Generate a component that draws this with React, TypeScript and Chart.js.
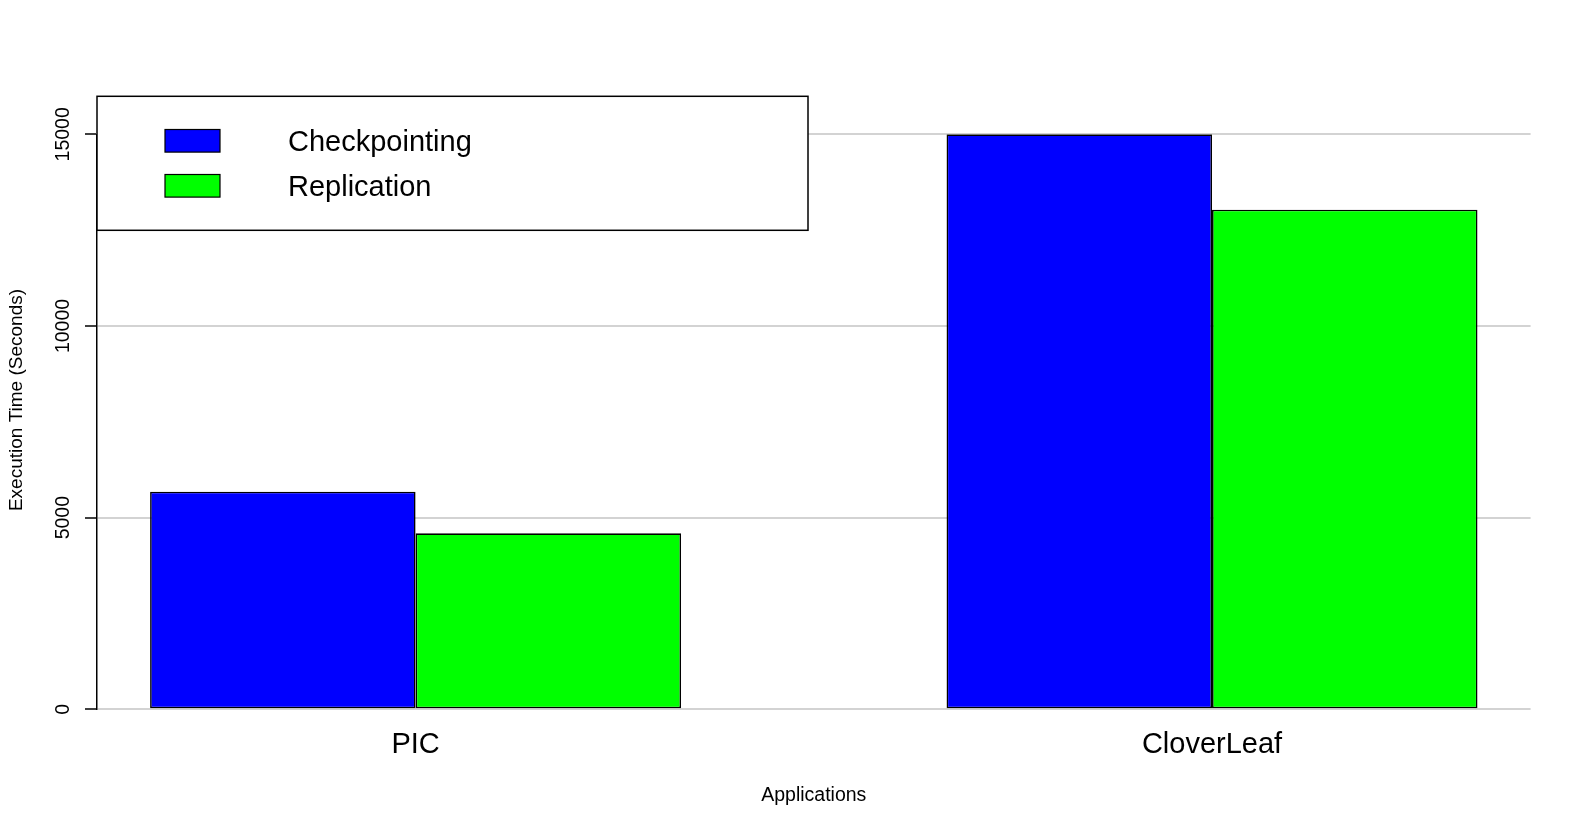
import React, { useEffect, useRef } from 'react';
import { Chart, registerables } from 'chart.js';

Chart.register(...registerables);

// ---- data ----
const categories = ['PIC', 'CloverLeaf'];
const seriesNames = ['Checkpointing', 'Replication'];
const checkpointing = [5675, 15000];
const replication = [4590, 13035];
const yTicks = [0, 5000, 10000, 15000];
const xTitle = 'Applications';
const yTitle = 'Execution Time (Seconds)';

const seriesColors = ['#0000FF', '#00FF00'];
const FONT = "'Liberation Sans', Arial, Helvetica, sans-serif";

// R barplot layout: bars of width 1, one unit gap before each group
const groupCentres = categories.map((_, i) => 2 + 3 * i);

const W = 1578;
const H = 831;

const rDecor = {
  id: 'rDecor',
  afterDraw(chart: any) {
    const { ctx, chartArea } = chart;
    ctx.save();
    // legend box (topleft)
    const lx = chartArea.left;
    const ly = chartArea.top - 38;
    const lw = 711;
    const lh = 134;
    ctx.fillStyle = '#ffffff';
    ctx.fillRect(lx, ly, lw, lh);
    ctx.strokeStyle = '#000000';
    ctx.lineWidth = 1.5;
    ctx.strokeRect(lx, ly, lw, lh);
    const rowCentres = [ly + 44.5, ly + 89.5];
    seriesNames.forEach((name, i) => {
      const cy = rowCentres[i];
      ctx.fillStyle = seriesColors[i];
      ctx.fillRect(lx + 68, cy - 11.3, 55, 22.6);
      ctx.strokeStyle = '#000000';
      ctx.lineWidth = 1.2;
      ctx.strokeRect(lx + 68, cy - 11.3, 55, 22.6);
      ctx.fillStyle = '#000000';
      ctx.font = `29px ${FONT}`;
      ctx.textAlign = 'left';
      ctx.textBaseline = 'middle';
      ctx.fillText(name, lx + 191, cy + 2);
    });
    // y axis title
    ctx.translate(17, 400);
    ctx.rotate(-Math.PI / 2);
    ctx.fillStyle = '#000000';
    ctx.font = `19px ${FONT}`;
    ctx.textAlign = 'center';
    ctx.textBaseline = 'middle';
    ctx.fillText(yTitle, 0, 0);
    ctx.restore();
  },
};

export default function App() {
  const ref = useRef<HTMLCanvasElement | null>(null);

  useEffect(() => {
    if (!ref.current) return;
    Chart.defaults.font.family = FONT;
    Chart.defaults.color = '#000000';
    const mk = (vals: number[]) => vals.map((v, i) => ({ x: groupCentres[i], y: v }));
    const chart = new Chart(ref.current, {
      type: 'bar',
      data: {
        datasets: [
          {
            label: seriesNames[0],
            data: mk(checkpointing),
            backgroundColor: seriesColors[0],
            borderColor: '#000000',
            borderWidth: 1.6,
            borderSkipped: false,
          },
          {
            label: seriesNames[1],
            data: mk(replication),
            backgroundColor: seriesColors[1],
            borderColor: '#000000',
            borderWidth: 1.6,
            borderSkipped: false,
          },
        ],
      } as any,
      options: {
        animation: false,
        responsive: true,
        maintainAspectRatio: false,
        devicePixelRatio: 1,
        categoryPercentage: 2 / 3,
        barPercentage: 1,
        layout: { padding: { top: 134.3, right: 47.4, left: 0, bottom: 0 } },
        plugins: {
          legend: { display: false },
          tooltip: { enabled: false },
        },
        scales: {
          x: {
            type: 'linear',
            min: 0.8,
            max: 6.2,
            offset: false,
            grid: { display: false, drawTicks: false },
            border: { display: false },
            afterBuildTicks: (scale: any) => {
              scale.ticks = groupCentres.map((v) => ({ value: v }));
            },
            afterFit: (scale: any) => {
              scale.height = H - 709.3;
            },
            ticks: {
              autoSkip: false,
              maxRotation: 0,
              minRotation: 0,
              padding: 18.5,
              font: { size: 29 },
              color: '#000000',
              callback: (_v: any, i: number) => categories[i],
            },
            title: {
              display: true,
              text: xTitle,
              font: { size: 19.5 },
              color: '#000000',
              padding: { top: 0, bottom: 24 },
            },
          },
          y: {
            type: 'linear',
            min: 0,
            max: 15000,
            afterBuildTicks: (scale: any) => {
              scale.ticks = yTicks.map((v) => ({ value: v }));
            },
            afterFit: (scale: any) => {
              scale.width = 97;
            },
            grid: {
              color: '#D3D3D3',
              lineWidth: 2,
              drawTicks: true,
              tickLength: 12,
              tickColor: '#000000',
              tickWidth: 1.5,
            },
            border: { display: true, color: '#000000', width: 1.5 },
            ticks: {
              minRotation: 90,
              maxRotation: 90,
              crossAlign: 'center',
              padding: -5.3,
              font: { size: 19.5 },
              color: '#000000',
              callback: (v: any) => String(v),
            },
          },
        },
      } as any,
      plugins: [rDecor],
    });
    return () => chart.destroy();
  }, []);

  return (
    <div style={{ position: 'fixed', left: 0, top: 0, width: W, height: H, background: '#ffffff' }}>
      <canvas ref={ref} />
    </div>
  );
}
